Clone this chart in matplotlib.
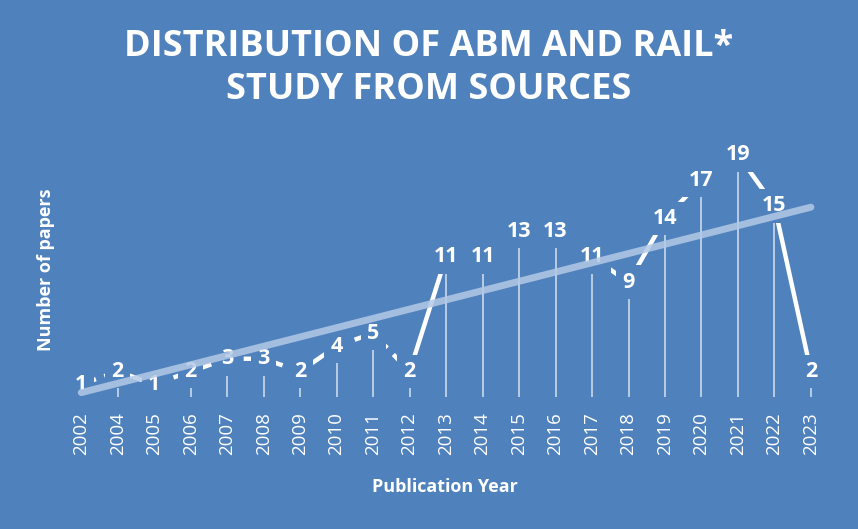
import matplotlib
matplotlib.use("Agg")
import matplotlib.pyplot as plt
import numpy as np

years = ["2002", "2004", "2005", "2006", "2007", "2008", "2009", "2010", "2011", "2012",
         "2013", "2014", "2015", "2016", "2017", "2018", "2019", "2020", "2021", "2022", "2023"]
papers = [1, 2, 1, 2, 3, 3, 2, 4, 5, 2, 11, 11, 13, 13, 11, 9, 14, 17, 19, 15, 2]
split_year = "2012"

title_lines = ["DISTRIBUTION OF ABM AND RAIL*", "STUDY FROM SOURCES"]
x_label = "Publication Year"
y_label = "Number of papers"

BG = "#4f81bd"
FONT = ["Open Sans", "DejaVu Sans"]
plt.rcParams["font.family"] = FONT

fig = plt.figure(figsize=(8.58, 5.29), dpi=100, facecolor=BG)
ax = fig.add_axes([0.0734, 0.2495, 0.893, 0.482])
ax.set_facecolor(BG)

x = np.arange(len(years))
y = np.array(papers)
k = years.index(split_year)

ax.vlines(x, 0, y, colors="white", lw=1.2, alpha=0.7, zorder=1)
ax.plot(x[:k + 1], y[:k + 1], color="white", lw=3.2, ls=(0, (3.5, 2)), zorder=2)
ax.plot(x[k:], y[k:], color="white", lw=3.2, zorder=2)

for xi, v in zip(x, y):
    ax.text(xi, v, str(v), ha="center", va="center", fontsize=15.5, fontweight="bold",
            color="white", zorder=3,
            bbox=dict(boxstyle="square,pad=0.3", fc=BG, ec="none"))

coef = np.polyfit(x, y, 1)
ends = x[[0, -1]]
ax.plot(ends, np.polyval(coef, ends), color="#b3c9e6", lw=5, solid_capstyle="round",
        alpha=0.85, zorder=4)

ax.set_xlim(-0.5, len(years) - 0.5)
ax.set_ylim(0, 20)
ax.set_xticks(x)
ax.set_xticklabels(years, rotation=90, fontsize=13.5, color="white")
ax.tick_params(axis="x", length=0, pad=11)
ax.set_yticks([])
for s in ax.spines.values():
    s.set_visible(False)

fig.text(0.499, 1 - 47 / 529, title_lines[0], ha="center", va="center", fontsize=26,
         fontweight="bold", color="white")
fig.text(0.499, 1 - 90 / 529, title_lines[1], ha="center", va="center", fontsize=26,
         fontweight="bold", color="white")
fig.text(445 / 858, 1 - 487 / 529, x_label, ha="center", va="center", fontsize=13,
         fontweight="bold", color="white")
fig.text(46 / 858, 1 - 270 / 529, y_label, ha="center", va="center", fontsize=13,
         fontweight="bold", color="white", rotation=90)

fig.savefig("out.png", dpi=100, facecolor=BG)
